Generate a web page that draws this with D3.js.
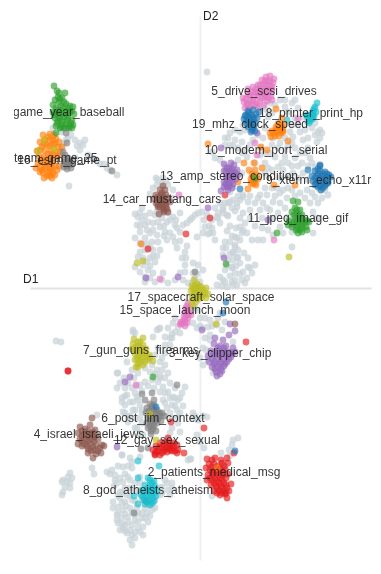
<!DOCTYPE html>
<html>
<head>
<meta charset="utf-8">
<script src="https://cdn.jsdelivr.net/npm/d3@7"></script>
<style>
  html, body { margin: 0; padding: 0; background: #fff; }
  svg { display: block; filter: blur(0.35px); }
  text { font-family: "Liberation Sans", Arial, sans-serif; }
</style>
</head>
<body>
<div id="scatter"></div>
<script>
// topic projection, values (D1, D2)
const other = [
  [-42,108],[-37,110],[-32,103],[-47,100],[-27,98],[-43,103],[-58,80],[-62,71],[-63,63],[-58,68],[-55,63],[-60,56],[-50,75],[-52,66],[-45,73],[-47,65],[-38,70],[-40,61],[-32,75],[-33,66],[-27,71],[-25,63],[-20,75],[-35,56],[-43,53],[-50,55],[-55,50],[-48,46],[-55,38],[-47,38],[-60,36],[-50,30],[-45,26],[-57,23],[-62,31],[-52,18],[-65,21],[-55,11],[-47,15],[-37,15],[-40,38],[-33,48],[-27,51],[-20,56],[-13,65],[-10,68],[-5,73],[2,76],[7,73],[5,61],[12,60],[13,55],[3,55],[-3,51],[15,48],[-15,36],[-14,30],[-15,23],[-23,40],[-25,46],[-7,25],[-2,23],[3,18],[-5,10],[0,6],[-12,5],[-32,5],[-20,15],
  [-60,75],[-55,72],[-60,62],[-53,58],[-47,58],[-42,66],[-36,62],[-30,68],[-24,68],[-43,76],[-38,76],[-53,44],[-50,40],[-58,44],[-42,46],[-36,52],[-30,55],[-23,60],[-17,63],[-8,70],[-2,75],[4,68],[9,62],[8,54],[-57,30],[-53,26],[-47,32],[-43,32],[-50,22],[-60,16],[-50,10],[-45,6],[-55,6],[-38,8],[-25,8],[-17,8],[-8,5],[-44,110],[-34,107],[-38,104],[-50,94],[-28,90],[-65,74],[-20,47],[-18,30],[-13,42],[-15,16],[-7,15],[-3,14],[-60,45],[-65,50],
  [35,51],[35,41],[33,35],[28,28],[25,18],[20,11],[25,6],[17,3],[32,21],[38,31],[40,61],[27,73],[32,80],[37,85],[43,93],[25,85],[23,78],[30,86],
  [10,55],[17,71],[23,75],[28,85],[33,88],[37,81],[43,75],[40,88],[25,46],[23,40],[23,33],[37,50],[42,55],[43,58],[35,43],[33,36],[33,28],[37,30],[32,20],[35,15],[32,6],[37,3],[42,8],[43,16],[48,21],[55,23],[45,5],[52,15],[58,48],[63,48],[92,41],[73,53],[80,61],[113,55],[70,78],[78,75],[63,85],[58,90],[67,93],[73,86],[80,95],[87,90],[77,100],[83,98],[60,93],[100,95],[107,98],[92,98],[115,91],[118,85],[120,98],[128,93],[88,71],[92,56],[113,76],[117,70],[30,96],[25,103],[33,101],[18,75],[23,80],[43,91],[48,86],[18,70],[50,78],
  [26,40],[30,34],[27,22],[30,12],[27,1],[22,2],[35,8],[40,14],[47,10],[50,20],[40,25],[36,22],[30,46],[40,48],[32,52],[27,57],[36,60],[45,65],[50,70],[55,62],[62,70],[67,80],[72,70],[60,78],[55,85],[50,92],[65,100],[72,100],[80,85],[85,80],[75,92],[88,100],[95,92],[105,90],[110,85],[112,95],[122,90],[125,98],[20,85],[15,80],[38,92],[35,77],[28,72],[30,62],[20,65],[12,68],[40,70],[47,55],[52,48],[38,38],[44,35],[48,30],[83,55],[68,58],[62,60],
  [80,188],[75,183],[85,181],[88,176],[98,180],[103,171],[107,166],[98,163],[90,156],[93,151],[100,156],[115,165],[118,156],[115,153],[120,150],[117,146],[45,158],[40,156],[30,155],[28,150],[25,143],[30,143],[35,148],[42,146],[50,143],[58,153],[63,150],[72,143],[80,145],[75,131],[85,131],[95,130],[102,125],[110,130],[115,121],[12,136],[20,128],[38,128],[47,131],[60,133],[65,125],[72,118],[78,121],[83,118],[93,115],[103,115],[85,138],[100,135],[63,181],[58,180],[103,148],[88,143],[7,216],[43,163],[67,178],[72,175],[68,171],
  [35,158],[25,150],[33,142],[38,140],[45,138],[53,148],[52,158],[65,160],[73,150],[78,140],[70,135],[65,135],[82,125],[88,125],[92,122],[98,122],[108,122],[112,125],[105,135],[108,140],[95,140],[92,145],[85,150],[78,165],[95,170],[92,163],[105,158],[110,170],[108,150],[112,160],[120,158],[122,155],[15,130],[25,122],[42,135],[55,125],[68,120],[88,112],[98,110],[108,108],[80,110],[65,115],[42,115],[60,140],[70,185],[92,185],[85,188],[95,188],
  [23,8],[33,3],[-3,-22],[0,-30],[-7,-35],[8,-39],[17,-37],[22,-42],[10,-32],[25,-34],[5,-50],[10,-52],[3,-77],[8,-72],[-22,-39],[-25,-44],[-28,-50],[-40,-40],[-43,-42],[-27,-35],[-35,-57],[-30,-57],[-67,-42],[-65,-45],[-47,-49],[-45,-67],[-40,-74],[-35,-77],[-38,-82],[-43,-82],[-48,-77],[-55,-80],[-62,-85],[-68,-82],[-82,-85],[-80,-95],[-83,-100],[-75,-100],[-73,-107],[-78,-110],[-70,-114],[-75,-117],[-77,-124],[-67,-122],[-72,-129],[-60,-97],[-55,-94],[-48,-92],[-42,-94],[-37,-99],[-32,-104],[-40,-104],[-27,-109],[-22,-112],[-18,-105],[-15,-99],[-28,-117],[-23,-122],[-33,-120],[-37,-112],[-63,-109],[-67,-114],[-60,-117],[-65,-130],[-40,-125],[-58,-124],[-22,-129],
  [-50,-84],[-45,-86],[-40,-88],[-35,-90],[-52,-98],[-46,-100],[-58,-103],[-68,-100],[-63,-98],[-72,-95],[-76,-90],[-66,-90],[-75,-108],[-65,-105],[-62,-112],[-65,-122],[-70,-128],[-60,-130],[-58,-135],[-65,-140],[-60,-145],[-30,-95],[-25,-100],[-20,-110],[-30,-110],[-35,-105],[-30,-125],[-35,-128],[-25,-118],[-17,-118],[-20,-125],[-28,-130],[-22,-135],[-30,-145],[-40,-90],[-32,-85],[-38,-70],[-42,-60],[-35,-65],[-30,-50],[-32,-40],[-20,-45],[-5,-20],[0,-38],[5,-30],[12,-38],[18,-30],[20,-25],[3,-40],[-3,-40],[-25,-30],[3,-60],[6,-62],[0,-70],[38,-150],[30,-168],[-5,-128],[3,-128],
  [-58,-122],[-35,-115],[-25,-110],[-78,-114],[-75,-125],[-72,-134],[-63,-140],[-57,-147],[-103,-127],[-20,-144],[-28,-140],[-12,-172],[-41,-41],[-35,-49],[-28,-46],[-67,-44],[-7,-125],[-7,-130],[7,-129],[-2,-132],[0,-154],[4,-160],[-3,-147],[33,-152],[32,-157],[29,-162],[21,-165],[-9,-171],[12,-208],[10,-47],[13,-85],[33,-54],[-144,-53],[-139,-54],[-73,-74],[-83,-85],[-78,-167],[-108,-180],[-106,-186],
  [-130,-185],[-132,-189],[-137,-192],[-133,-194],[-138,-194],[-130,-195],[-135,-199],[-130,-200],[-137,-204],[-138,-207],[-128,-190],
  [-93,-184],[-88,-182],[-85,-187],[-80,-190],[-83,-195],[-77,-194],[-72,-189],[-65,-195],[-70,-200],[-75,-200],[-80,-204],[-68,-174],[-73,-207],[-80,-210],[-87,-214],[-82,-219],[-87,-220],[-75,-214],[-68,-212],[-77,-222],[-70,-220],[-63,-219],[-83,-227],[-78,-230],[-72,-229],[-65,-227],[-58,-225],[-82,-235],[-75,-237],[-68,-237],[-62,-234],[-55,-230],[-80,-242],[-73,-245],[-65,-244],[-57,-239],[-52,-234],[-65,-250],[-70,-252],[-68,-257],[-57,-247],[-48,-222],[-52,-217],[-33,-195],[-28,-195],[-38,-199],[-32,-202],[-40,-207],[-30,-207],[-60,-189],[-45,-212],[-77,-179],[-68,-180],[-10,-171],[-78,-167],[-70,-170],[-60,-169],
  [-85,-192],[-90,-186],[-75,-186],[-70,-192],[-60,-195],[-65,-203],[-70,-208],[-78,-205],[-82,-208],[-78,-215],[-82,-225],[-74,-218],[-65,-213],[-60,-205],[-58,-212],[-62,-225],[-68,-224],[-75,-226],[-72,-234],[-65,-232],[-58,-230],[-78,-236],[-70,-242],[-62,-240],[-77,-240],[-68,-247],[-60,-244],[-53,-225],[-50,-228],[-47,-216],[-40,-200],[-35,-192],[-28,-200],[-38,-205],[-72,-178],[-82,-178],[-86,-198],[-55,-220],[-45,-220],[-83,-232],[-75,-243],
  [-120,145],[-123,142],[-117,143],[-147,160],[-139,156],[-129,153],[-134,148],[-138,140],[-140,120],[-137,123],[-112,133],[-104,128],[-100,124],[-93,120],[-90,118],[-83,113],[-131,102],[-125,148],[-120,138],[-115,148],[-132,150],[-125,130],[-136,145],[-108,130],[-96,124]
];

const teamGame = [[-157,153],[-150,154],[-146,153],[-155,148],[-160,146],[-150,148],[-144,149],[-141,146],[-153,143],[-158,141],[-147,143],[-142,141],[-138,141],[-163,137],[-155,137],[-149,137],[-144,136],[-140,136],[-161,132],[-156,131],[-150,131],[-146,130],[-158,126],[-153,125],[-148,125],[-160,121],[-155,120],[-150,120],[-145,122],[-164,120],[-157,115],[-152,115],[-147,115],[-143,118],[-156,110],[-150,112],[-145,113],[-141,122],[-162,125],[-59,44],[-152,151],[-147,148],[-156,144],[-150,142],[-145,144],[-160,138],[-152,134],[-147,134],[-142,132],[-158,129],[-152,128],[-148,120],[-154,122],[-158,118],[-160,116],[-150,117],[-153,112],[-148,110]];
const baseball = [[-146,202],[-143,197],[-142,191],[-135,195],[-140,189],[-136,186],[-145,188],[-147,183],[-144,180],[-139,182],[-134,184],[-130,182],[-127,181],[-147,176],[-143,174],[-139,176],[-134,177],[-130,176],[-126,174],[-145,170],[-140,169],[-136,171],[-132,170],[-128,168],[-143,165],[-138,163],[-134,164],[-130,162],[-127,163],[-136,160],[-140,160],[-131,160],[-144,162],[-128,160],[-141,186],[-137,180],[-142,178],[-132,180],[-128,177],[-141,172],[-137,174],[-133,173],[-142,167],[-138,167],[-133,167],[-129,165],[-139,161],[-134,160],[-144,176],[-146,173],[-141,195],[-138,190]];
const patients = [[7,-171],[15,-170],[27,-170],[9,-176],[14,-176],[22,-175],[28,-175],[10,-182],[15,-182],[20,-181],[25,-181],[8,-187],[13,-187],[18,-187],[23,-187],[28,-186],[7,-192],[12,-192],[17,-193],[22,-192],[11,-197],[16,-198],[21,-198],[26,-197],[31,-196],[14,-203],[19,-203],[24,-203],[29,-203],[27,-210],[25,-206],[20,-207],[12,-172],[21,-172],[12,-179],[18,-178],[24,-178],[12,-184],[18,-184],[23,-184],[10,-190],[15,-190],[20,-190],[26,-190],[14,-195],[19,-195],[24,-195],[17,-200],[22,-200],[27,-200],[17,-205],[22,-205],[6,-180],[26,-205],[46,-54],[34,-165],[10,70],[25,93],[-14,54],[-52,39],[-132,-83],[-132,-83],[-54,-213],[-29,-134],[4,-140]];
const clipper = [[15,-50],[23,-52],[14,-56],[20,-58],[26,-58],[33,-60],[11,-63],[17,-63],[23,-63],[29,-64],[35,-64],[8,-68],[14,-68],[20,-68],[26,-68],[31,-69],[9,-74],[15,-74],[21,-74],[27,-74],[12,-79],[18,-79],[24,-78],[16,-84],[22,-83],[20,-86],[17,-88],[18,-60],[24,-60],[14,-65],[20,-65],[26,-65],[32,-66],[12,-71],[18,-71],[24,-71],[29,-71],[14,-76],[20,-76],[25,-76],[15,-81],[21,-81],[30,-36],[35,-43],[29,-47],[2,-42],[-70,-89],[-75,-94],[-83,-159]];
const israel = [[-108,-130],[-110,-137],[-120,-139],[-115,-141],[-105,-142],[-122,-145],[-116,-146],[-110,-146],[-104,-147],[-120,-151],[-114,-151],[-108,-151],[-102,-151],[-122,-156],[-116,-156],[-110,-156],[-104,-157],[-98,-157],[-112,-161],[-106,-162],[-100,-160],[-96,-158],[-104,-166],[-112,-165],[-99,-165],[-107,-170],[-118,-143],[-112,-143],[-107,-144],[-118,-148],[-112,-148],[-106,-149],[-118,-153],[-112,-153],[-106,-153],[-118,-158],[-113,-158],[-107,-159],[-109,-163],[-102,-163],[35,-36],[-37,102],[-41,74]];
const drive = [[70,212],[66,211],[74,209],[62,208],[68,207],[73,205],[64,204],[58,203],[70,202],[53,201],[60,199],[66,199],[72,198],[48,199],[55,196],[62,195],[68,195],[50,193],[58,192],[65,191],[71,192],[46,189],[53,188],[60,187],[67,187],[72,188],[48,184],[43,190],[55,183],[64,183],[50,180],[45,180],[70,207],[65,207],[72,201],[66,202],[60,203],[56,199],[62,197],[69,198],[52,196],[58,195],[65,193],[48,193],[54,191],[62,190],[68,190],[50,187],[57,185],[44,186],[47,183],[52,184],[58,181],[98,169],[55,145],[57,133],[74,48],[-21,93],[-40,9]];
const postJim = [[-58,-106],[-48,-105],[-55,-112],[-46,-112],[-50,-116],[-46,-117],[-53,-120],[-48,-121],[-43,-122],[-54,-125],[-49,-126],[-44,-126],[-38,-125],[-52,-130],[-47,-131],[-42,-131],[-36,-128],[-53,-135],[-48,-136],[-43,-135],[-39,-133],[-52,-140],[-47,-141],[-44,-143],[-49,-146],[-48,-118],[-51,-123],[-46,-123],[-41,-125],[-50,-128],[-45,-129],[-40,-128],[-50,-133],[-45,-133],[-50,-138],[-46,-138],[-49,-143],[-23,-97],[-66,-225],[-59,-161],[-52,-160],[-5,16]];
const guns = [[-66,-51],[-57,-50],[-60,-54],[-67,-56],[-62,-58],[-57,-57],[-68,-61],[-63,-62],[-58,-62],[-54,-61],[-65,-66],[-60,-67],[-55,-66],[-51,-67],[-63,-71],[-58,-72],[-52,-72],[-47,-73],[-62,-76],[-57,-77],[-64,-79],[-62,-54],[-64,-59],[-59,-60],[-65,-63],[-60,-64],[-56,-63],[-62,-68],[-58,-69],[-53,-69],[-60,-74],[-55,-74],[-50,-70],[-65,-72],[-62,-79]];
const atheists = [[-50,-192],[-46,-193],[-55,-197],[-50,-197],[-45,-198],[-58,-202],[-53,-202],[-48,-202],[-43,-203],[-59,-207],[-54,-207],[-49,-207],[-44,-208],[-56,-212],[-51,-212],[-46,-213],[-50,-217],[-55,-216],[-48,-195],[-52,-200],[-47,-200],[-55,-204],[-50,-204],[-46,-205],[-57,-209],[-52,-209],[-47,-210],[-53,-214],[-48,-215],[-62,-173],[-41,-178],[-62,-190],[-52,-190],[-66,-208],[-62,-216]];
const xterm = [[120,122],[115,117],[120,117],[125,116],[129,113],[112,112],[117,112],[122,112],[127,111],[131,111],[113,107],[118,107],[123,106],[128,106],[115,103],[120,102],[125,102],[121,98],[118,114],[123,114],[127,114],[115,110],[120,110],[125,109],[116,105],[121,104],[126,104],[118,101],[123,100],[118,119],[108,118],[120,123],[128,105],[40,99],[59,176],[26,-14],[23,-25],[-44,-119],[35,-163]];
const modem = [[55,118],[52,114],[57,113],[51,109],[55,108],[58,109],[53,104],[56,103],[51,105],[53,111],[55,111],[53,107],[55,105],[44,125],[54,125],[62,120],[49,118],[38,106],[48,99],[74,103],[95,103],[17,-180]];
const jpeg = [[95,80],[100,78],[92,76],[97,75],[102,73],[95,70],[100,70],[105,68],[89,67],[94,66],[99,65],[104,65],[109,66],[92,61],[97,60],[102,60],[106,61],[98,55],[102,56],[97,78],[99,72],[94,73],[97,67],[102,67],[107,67],[92,64],[97,63],[102,63],[96,58],[100,58],[93,87],[98,86],[77,55],[107,58],[88,63],[26,24],[-47,-89],[-144,155],[55,110]];
const gaySex = [[-32,-150],[-35,-154],[-31,-155],[-40,-155],[-27,-155],[-44,-158],[-38,-159],[-33,-160],[-28,-160],[-23,-157],[-47,-162],[-42,-163],[-36,-163],[-30,-162],[-25,-163],[-22,-162],[-45,-166],[-40,-167],[-23,-165],[-16,-165],[-45,-167],[-36,-157],[-30,-157],[-41,-160],[-35,-161],[-30,-160],[-26,-158],[-44,-164],[-38,-165],[-33,-164],[-28,-163]];
const stereo = [[24,124],[31,125],[34,123],[27,120],[32,119],[37,118],[24,117],[29,115],[34,114],[38,113],[26,111],[31,110],[36,109],[24,106],[29,105],[33,104],[27,101],[32,100],[24,101],[29,120],[26,117],[31,117],[35,116],[29,112],[33,111],[27,108],[32,107],[29,102],[26,104],[21,97],[28,98],[21,140],[57,155],[8,80],[24,30],[68,68],[-54,10],[-22,11]];
const mustang = [[-40,98],[-35,98],[-44,93],[-39,93],[-34,93],[-46,89],[-41,89],[-36,88],[-32,90],[-44,85],[-39,85],[-34,84],[-30,86],[-42,81],[-37,80],[-33,79],[-36,76],[-32,76],[-38,95],[-42,91],[-37,91],[-40,87],[-35,86],[-42,83],[-37,83],[-34,81],[-40,81],[-36,78]];
const launch = [[-12,-15],[-14,-20],[-10,-20],[-15,-24],[-11,-25],[-16,-29],[-12,-30],[-9,-27],[-17,-34],[-13,-35],[-18,-36],[-19,-34],[-20,-36],[-15,-38],[-13,-18],[-13,-23],[-14,-27],[-15,-31],[-15,-34],[-12,-27],[-64,-97]];
const espn = [[-134,155],[-133,145],[-137,136],[-135,133],[-132,130],[-130,127],[-135,126],[-131,123],[-136,121],[-128,124],[-129,120],[-133,119],[-88,117],[-134,128],[-133,122],[-130,125],[-134,124]];
const spacecraft = [[-6,8],[-3,4],[-8,2],[-4,0],[1,1],[6,0],[-9,-3],[-5,-4],[0,-4],[5,-5],[8,-6],[-8,-9],[-3,-9],[2,-9],[6,-10],[-8,-14],[-4,-14],[-7,-18],[-5,2],[-1,2],[3,-2],[-7,-1],[-2,-2],[3,-7],[-6,-6],[-1,-7],[-6,-11],[-2,-11],[16,-36],[89,31],[-63,25],[-57,27],[-44,-152],[-50,-126],[-156,148],[-162,137],[-146,139]];
const printer = [[117,185],[115,181],[113,177],[116,176],[111,173],[114,172],[108,170],[112,169],[110,167],[107,172],[109,165],[107,173],[114,179],[113,174],[110,170],[113,170],[87,168]];
const clock = [[48,177],[53,178],[46,173],[51,173],[56,174],[44,169],[49,169],[54,169],[57,170],[46,165],[51,165],[55,165],[48,161],[53,160],[51,156],[55,157],[45,172],[49,175],[48,171],[53,171],[47,167],[52,167],[50,163],[54,162],[52,158]];
const clockOrange = [[82,170],[80,165],[84,163],[76,161],[80,160],[83,158],[72,157],[77,156],[81,155],[70,155],[75,152],[79,152],[78,163],[82,161],[76,158],[80,158],[74,155],[76,179],[83,156],[71,151],[88,147],[8,144],[61,141],[67,138]];

const seriesData = [teamGame, baseball, patients, clipper, israel, drive, postJim, guns, atheists, xterm, modem, jpeg, gaySex, stereo, mustang, launch, espn, spacecraft, printer, clock, clockOrange];
const seriesColors = ["#ff7f0e", "#2ca02c", "#e41a1c", "#9467bd", "#8c564b", "#e377c2", "#7f7f7f", "#bcbd22", "#17becf", "#1f77b4", "#ff7f0e", "#2ca02c", "#e41a1c", "#9467bd", "#8c564b", "#e377c2", "#7f7f7f", "#bcbd22", "#17becf", "#1f77b4", "#ff7f0e"];

const labelNames = ["0_team_game_25", "1_game_year_baseball", "2_patients_medical_msg", "3_key_clipper_chip", "4_israel_israeli_jews", "5_drive_scsi_drives", "6_post_jim_context", "7_gun_guns_firearms", "8_god_atheists_atheism", "9_xterm_echo_x11r5", "10_modem_port_serial", "11_jpeg_image_gif", "12_gay_sex_sexual", "13_amp_stereo_condition", "14_car_mustang_cars", "15_space_launch_moon", "16_espn_game_pt", "17_spacecraft_solar_space", "18_printer_print_hp", "19_mhz_clock_speed"];
const labelD1 = [-151, -138, 14, 20, -111, 64, -47, -59, -52, 122, 66, 98, -33, 29, -38, -15, -133, 1, 111, 50];
const labelD2 = [126, 172, -188, -69, -150, 193, -134, -66, -206, 104, 134, 66, -156, 108, 85, -26, 124, -13, 171, 160];

const svgWidth = 381, svgHeight = 574;

const xScale = d3.scaleLinear().domain([-170, 171]).range([30, 371]);
const yScale = d3.scaleLinear().domain([272, -272]).range([16, 560]);

const svg = d3.select("#scatter").append("svg")
  .attr("width", svgWidth)
  .attr("height", svgHeight);

svg.append("defs").append("clipPath").attr("id", "plotClip")
  .append("rect").attr("x", 14).attr("y", 0).attr("width", 358).attr("height", svgHeight);

const plot = svg.append("g").attr("clip-path", "url(#plotClip)");

// axes through the origin, no ticks
plot.append("g").attr("transform", `translate(0, ${yScale(0)})`)
  .call(d3.axisBottom(xScale).tickValues([]).tickSizeOuter(0))
  .select(".domain").attr("stroke", "#e3e3e3").attr("stroke-width", 2);
plot.append("g").attr("transform", `translate(${xScale(0)}, 0)`)
  .call(d3.axisLeft(yScale).tickValues([]).tickSizeOuter(0))
  .select(".domain").attr("stroke", "#eef0f1").attr("stroke-width", 2);

function drawDots(points, color, opacity) {
  plot.append("g").selectAll("circle")
    .data(points)
    .enter()
    .append("circle")
    .attr("cx", d => xScale(d[0]))
    .attr("cy", d => yScale(d[1]))
    .attr("r", 3.4)
    .attr("fill", color)
    .attr("opacity", opacity);
}

drawDots(other, "#c8d2d7", 0.7);
seriesData.forEach((points, i) => drawDots(points, seriesColors[i], 0.65));

plot.append("g").selectAll("text")
  .data(labelNames)
  .enter()
  .append("text")
  .attr("x", (d, i) => xScale(labelD1[i]))
  .attr("y", (d, i) => yScale(labelD2[i]))
  .attr("text-anchor", "middle")
  .attr("font-size", "12px")
  .attr("fill", "#222")
  .attr("opacity", 0.9)
  .text(d => d);

svg.append("text").attr("x", 203).attr("y", 20).attr("font-size", "12px").attr("fill", "#222").text("D2");
svg.append("text").attr("x", 23).attr("y", 283).attr("font-size", "12px").attr("fill", "#222").text("D1");
</script>
</body>
</html>
